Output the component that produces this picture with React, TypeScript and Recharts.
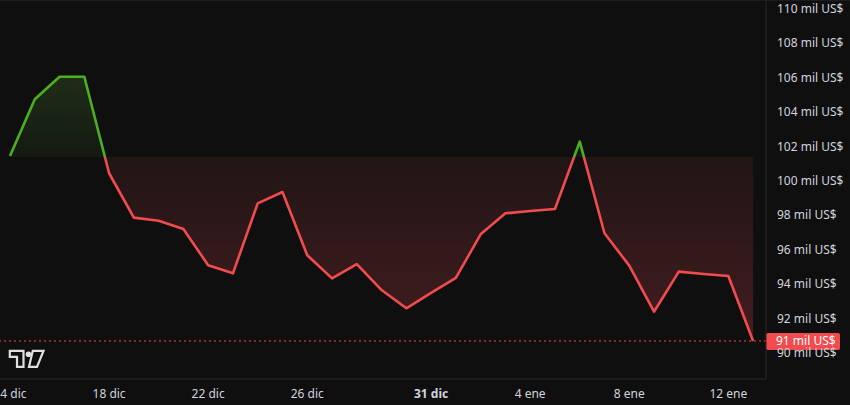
import React from 'react';
import { ComposedChart, Area, XAxis, YAxis, ReferenceLine } from 'recharts';

const days = [
  '14 dic', '15 dic', '16 dic', '17 dic', '18 dic', '19 dic', '20 dic', '21 dic', '22 dic', '23 dic',
  '24 dic', '25 dic', '26 dic', '27 dic', '28 dic', '29 dic', '30 dic', '31 dic', '1 ene', '2 ene',
  '3 ene', '4 ene', '5 ene', '6 ene', '7 ene', '8 ene', '9 ene', '10 ene', '11 ene', '12 ene', '13 ene',
];
const prices = [
  101.45, 104.75, 106.06, 106.06, 100.45, 97.87, 97.69, 97.21, 95.1, 94.63,
  98.7, 99.36, 95.68, 94.34, 95.17, 93.66, 92.6, 93.5, 94.37, 96.9,
  98.12, 98.26, 98.37, 102.29, 96.96, 95.08, 92.4, 94.73, 94.59, 94.48, 90.7,
];
const baseline = 101.4;
const xTickDays = ['14 dic', '18 dic', '22 dic', '26 dic', '31 dic', '4 ene', '8 ene', '12 ene'];
const boldTick = '31 dic';
const yTicks = [90, 92, 94, 96, 98, 100, 102, 104, 106, 108, 110];
const lastPriceLabel = '91 mil US$';

const data = days.map((d, i) => ({ i, d, p: prices[i] }));
const maxP = Math.max(...prices);
const minP = Math.min(...prices);
const off = (maxP - baseline) / (maxP - minP);

const GREEN = '#4cb01e';
const RED = '#f24b4e';
const FONT = '"Noto Sans", Roboto, sans-serif';

const XTick = (props: any) => {
  const { x, y, payload } = props;
  const label = days[payload.value];
  return (
    <text x={x} y={y + 19} textAnchor="middle" fill="#d1d4dc" fontSize={12}
      fontFamily={FONT} fontWeight={label === boldTick ? 700 : 400}>
      {label}
    </text>
  );
};

const YTick = (props: any) => {
  const { x, y, payload } = props;
  return (
    <text x={x + 11} y={y + 4} textAnchor="start" fill="#d1d4dc" fontSize={12} fontFamily={FONT}>
      {`${payload.value} mil US$`}
    </text>
  );
};

const PriceLabel = (props: any) => {
  const vb = props.viewBox || {};
  const x0 = vb.x + vb.width;
  const y0 = vb.y;
  return (
    <g>
      <rect x={x0} y={y0 - 8} width={74} height={17} rx={2} fill={RED} />
      <text x={x0 + 10} y={y0 + 4.5} fill="#ffffff" fontSize={12} fontFamily={FONT}>
        {lastPriceLabel}
      </text>
    </g>
  );
};

export default function App() {
  return (
    <div style={{ position: 'fixed', left: 0, top: 0, width: 850, height: 405, background: '#0f0f0f', overflow: 'hidden' }}>
      <div style={{ position: 'absolute', left: 0, top: 0, width: 850, height: 1, background: '#1c1c1c' }} />
      <ComposedChart width={850} height={405} data={data} margin={{ top: 0, right: 0, bottom: 0, left: 0 }}>
        <defs>
          <linearGradient id="strokeGrad" x1="0" y1="0" x2="0" y2="1">
            <stop offset={0} stopColor={GREEN} />
            <stop offset={off} stopColor={GREEN} />
            <stop offset={off} stopColor={RED} />
            <stop offset={1} stopColor={RED} />
          </linearGradient>
          <linearGradient id="fillGrad" x1="0" y1="0" x2="0" y2="1">
            <stop offset={0} stopColor="#1f2d18" />
            <stop offset={off} stopColor="#141a12" />
            <stop offset={off} stopColor="#211515" />
            <stop offset={1} stopColor="#431d20" />
          </linearGradient>
        </defs>
        <XAxis dataKey="i" type="number" domain={[-0.404, 30.52]} allowDataOverflow
          ticks={xTickDays.map((d) => days.indexOf(d))} interval={0}
          tick={<XTick />} tickLine={false} tickSize={0} tickMargin={0}
          axisLine={{ stroke: '#2a2a2a', strokeWidth: 1 }} height={26} />
        <YAxis orientation="right" type="number" domain={[88.488, 110.523]} allowDataOverflow
          ticks={yTicks} interval={0} tick={<YTick />} tickLine={false} tickSize={0} tickMargin={0}
          axisLine={{ stroke: '#2a2a2a', strokeWidth: 1 }} width={84} />
        <Area type="linear" dataKey="p" baseValue={baseline} stroke="url(#strokeGrad)" strokeWidth={2.6}
          strokeLinejoin="round" fill="url(#fillGrad)" fillOpacity={1} dot={false} activeDot={false}
          isAnimationActive={false} />
        <ReferenceLine y={prices[prices.length - 1]} stroke={RED} strokeWidth={1} strokeDasharray="2 3"
          label={<PriceLabel />} />
      </ComposedChart>
      <svg style={{ position: 'absolute', left: 8, top: 349 }} width={38} height={21}>
        <path d="M1.8 1.8 H15.5 V17.8 H9 V7.8 H1.8 Z" fill="#0f0f0f" stroke="#e0e0e0" strokeWidth={2.2} />
        <circle cx={20.5} cy={5.2} r={2.8} fill="#e0e0e0" />
        <path d="M24.8 1.8 H35.5 L29 17.8 H21 Z" fill="#0f0f0f" stroke="#e0e0e0" strokeWidth={2.2} />
      </svg>
    </div>
  );
}
